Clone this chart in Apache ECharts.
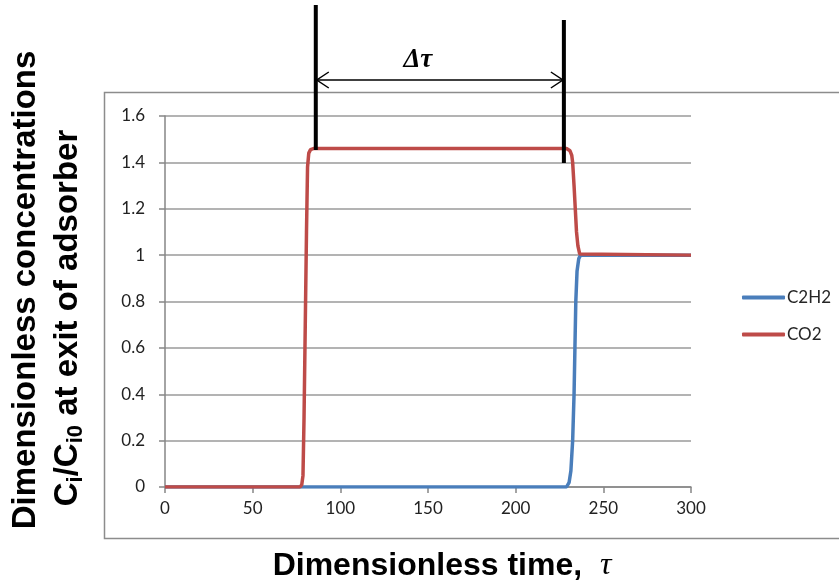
<!DOCTYPE html>
<html>
<head>
<meta charset="utf-8">
<script src="https://cdn.jsdelivr.net/npm/echarts@6/dist/echarts.min.js"></script>
<style>
  html, body { margin: 0; padding: 0; background: #fff; }
  #main { width: 839px; height: 588px; }
</style>
</head>
<body>
<div id="main"></div>
<script>
// 数据：横轴为无量纲时间 tau
const c2h2 = [
  [0, 0], [229, 0], [230.5, 0.02], [231.5, 0.07], [232.5, 0.2], [233.3, 0.4],
  [233.8, 0.6], [234.3, 0.8], [235, 0.93], [236, 0.985], [237, 1], [300, 1]
];
const co2 = [
  [0, 0], [77, 0], [78, 0.01], [78.7, 0.05], [79.3, 0.3], [80, 0.7], [80.7, 1.1],
  [81.3, 1.38], [82, 1.44], [83, 1.455], [85, 1.46], [229, 1.46], [231, 1.45],
  [232, 1.43], [232.5, 1.4], [233.3, 1.3], [234, 1.2], [234.7, 1.1], [235.5, 1.04],
  [236.5, 1.005], [237, 1], [300, 1]
];
// Δτ 标注的两条竖线位置
const deltaMarks = [86, 227.5];

const chart = echarts.init(document.getElementById("main"));

const labelFont = "Lato, 'Open Sans', sans-serif";
const axisGray = "#868686";

chart.setOption({
  animation: false,
  backgroundColor: "#fff",
  grid: { left: 165, right: 148, top: 116, bottom: 101 },
  legend: {
    orient: "vertical",
    left: 737,
    top: 284,
    itemWidth: 43,
    itemHeight: 4,
    itemGap: 20,
    icon: "roundRect",
    textStyle: { fontFamily: labelFont, fontSize: 17, color: "#262626", padding: [0, 0, 0, -3] },
    data: ["C2H2", "CO2"]
  },
  xAxis: {
    type: "value",
    min: 0,
    max: 300,
    interval: 50,
    axisLine: { lineStyle: { color: axisGray, width: 1.5 } },
    axisTick: { show: true, length: 6, lineStyle: { color: axisGray, width: 1.5 } },
    axisLabel: { fontFamily: labelFont, fontSize: 17, color: "#222", margin: 13 },
    splitLine: { show: false }
  },
  yAxis: {
    type: "value",
    min: 0,
    max: 1.6,
    interval: 0.2,
    axisLine: { show: true, lineStyle: { color: axisGray, width: 1.5 } },
    axisTick: { show: true, length: 6, lineStyle: { color: axisGray, width: 1.5 } },
    axisLabel: { fontFamily: labelFont, fontSize: 17, color: "#222", margin: 20 },
    splitLine: { show: true, lineStyle: { color: "#9a9a9a", width: 1.5 } }
  },
  series: [
    {
      name: "C2H2",
      type: "line",
      data: c2h2,
      showSymbol: false,
      symbol: "none",
      color: "#4A7EBB",
      lineStyle: { width: 3.5, color: "#4A7EBB" },
      z: 2
    },
    {
      name: "CO2",
      type: "line",
      data: co2,
      showSymbol: false,
      symbol: "none",
      color: "#BE4B48",
      lineStyle: { width: 3.5, color: "#BE4B48" },
      z: 3
    }
  ]
});

// 标注与坐标轴标题（用 convertToPixel 按数据位置摆放）
const xa = chart.convertToPixel({ xAxisIndex: 0 }, deltaMarks[0]);
const xb = chart.convertToPixel({ xAxisIndex: 0 }, deltaMarks[1]);
const arrowY = 80;
const head = 13;
const boldSans = "'Liberation Sans', Arial, sans-serif";

chart.setOption({
  graphic: [
    // 外框
    {
      type: "rect",
      shape: { x: 104.5, y: 92.5, width: 760, height: 446 },
      style: { fill: null, stroke: "#8c8c8c", lineWidth: 1.5 },
      z: -1, silent: true
    },
    // 两条竖线
    { type: "line", shape: { x1: xa, y1: 5, x2: xa, y2: 150 }, style: { stroke: "#000", lineWidth: 4 }, z: 10 },
    { type: "line", shape: { x1: xb, y1: 20, x2: xb, y2: 163 }, style: { stroke: "#000", lineWidth: 4 }, z: 10 },
    // 双向箭头
    { type: "line", shape: { x1: xa, y1: arrowY, x2: xb, y2: arrowY }, style: { stroke: "#000", lineWidth: 1.5 }, z: 10 },
    {
      type: "polyline",
      shape: { points: [[xa + head, arrowY - 8], [xa + 1, arrowY], [xa + head, arrowY + 8]] },
      style: { stroke: "#000", lineWidth: 1.5, fill: null }, z: 10
    },
    {
      type: "polyline",
      shape: { points: [[xb - head, arrowY - 8], [xb - 1, arrowY], [xb - head, arrowY + 8]] },
      style: { stroke: "#000", lineWidth: 1.5, fill: null }, z: 10
    },
    {
      type: "text",
      x: (xa + xb) / 2 - 22,
      y: 60,
      style: {
        text: "Δτ",
        font: "italic bold 27px 'Liberation Serif', 'DejaVu Serif', serif",
        fill: "#000",
        align: "center",
        verticalAlign: "middle"
      },
      z: 10
    },
    // 纵轴标题
    {
      type: "text",
      x: 26,
      y: 290,
      rotation: Math.PI / 2,
      style: {
        text: "Dimensionless concentrations",
        font: "bold 33px " + boldSans,
        fill: "#000",
        align: "center",
        verticalAlign: "middle"
      }
    },
    {
      type: "text",
      x: 68,
      y: 318,
      rotation: Math.PI / 2,
      style: {
        text: "{b|C}{s|i}{b|/C}{s|i0}{b| at exit of adsorber}",
        align: "center",
        verticalAlign: "middle",
        rich: {
          b: { font: "bold 33px " + boldSans, fill: "#000", lineHeight: 38 },
          s: { font: "bold 22px " + boldSans, fill: "#000", lineHeight: 22, verticalAlign: "bottom" }
        }
      }
    },
    // 横轴标题
    {
      type: "text",
      x: 442,
      y: 566,
      style: {
        text: "{b|Dimensionless time,  }{t|τ}",
        align: "center",
        verticalAlign: "middle",
        rich: {
          b: { font: "bold 32px " + boldSans, fill: "#000" },
          t: { font: "italic 32px 'Liberation Serif', 'DejaVu Serif', serif", fill: "#000" }
        }
      }
    }
  ]
});
</script>
</body>
</html>
